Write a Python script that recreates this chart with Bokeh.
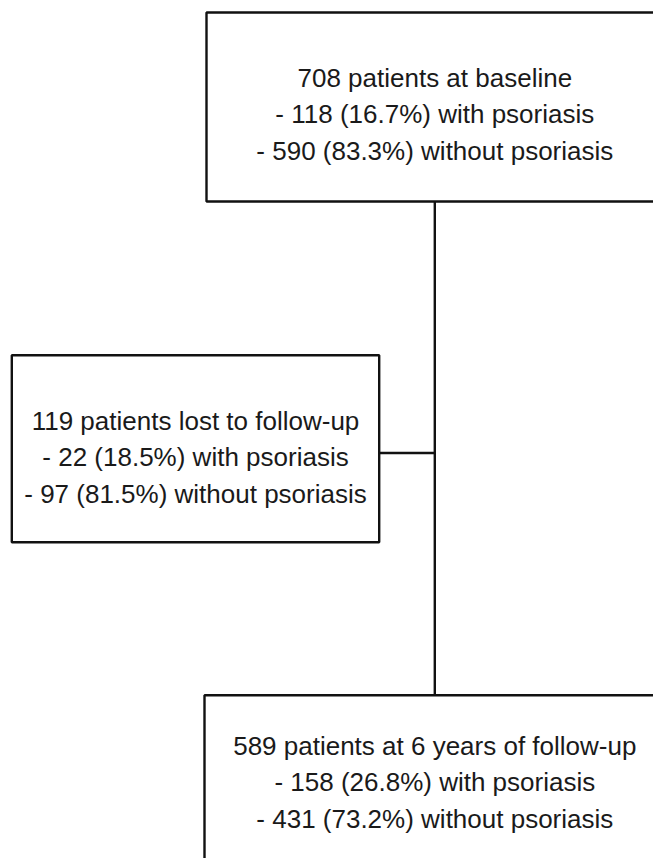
from bokeh.plotting import figure
from bokeh.models import ColumnDataSource, Range1d
from bokeh.core.properties import value
from bokeh.embed import file_html
from bokeh.resources import INLINE

# ---------------- data ----------------
stage_labels = ["at baseline", "lost to follow-up", "at 6 years of follow-up"]
totals = [708, 119, 589]
with_psoriasis = [118, 22, 158]
pct_with = [16.7, 18.5, 26.8]
without_psoriasis = [590, 97, 431]
pct_without = [83.3, 81.5, 73.2]

# ---------------- layout (reference pixel coordinates) ----------------
box_left = [206, 11.3, 204]
box_right = [662.6, 378.7, 664.6]
box_top = [12, 354.8, 694.7]
box_bottom = [201, 541.7, 900]
first_baseline = [77, 420, 745]
line_gap = 36.8
trunk_x = 434.3
branch_y = 452.5

W, H = 653, 858
p = figure(width=W, height=H, output_backend="svg", toolbar_location=None,
           x_range=Range1d(0, W), y_range=Range1d(H, 0),
           min_border=0, x_axis_type=None, y_axis_type=None)
p.grid.visible = False
p.outline_line_color = None
p.background_fill_color = "white"
p.border_fill_color = "white"

# connectors
p.segment(x0=[trunk_x, box_right[1]], y0=[box_bottom[0], branch_y],
          x1=[trunk_x, trunk_x], y1=[box_top[2], branch_y],
          line_color="#111111", line_width=2.4)

# boxes
boxes = ColumnDataSource(dict(left=box_left, right=box_right, top=box_top, bottom=box_bottom))
p.quad(left="left", right="right", top="top", bottom="bottom", source=boxes,
       fill_color="white", line_color="#111111", line_width=2.4)

# texts
xs, ys, txt = [], [], []
for i in range(len(totals)):
    cx = (box_left[i] + box_right[i]) / 2
    lines = [f"{totals[i]} patients {stage_labels[i]}",
             f"- {with_psoriasis[i]} ({pct_with[i]:.1f}%) with psoriasis",
             f"- {without_psoriasis[i]} ({pct_without[i]:.1f}%) without psoriasis"]
    for j, t in enumerate(lines):
        xs.append(cx)
        ys.append(first_baseline[i] + j * line_gap)
        txt.append(t)

p.text(x=xs, y=ys, text=txt, text_align="center", text_baseline="alphabetic",
       text_font=value("Liberation Sans"), text_font_size="26px", text_color="#1a1a1a")

open("out.html", "w").write(file_html(p, INLINE))
